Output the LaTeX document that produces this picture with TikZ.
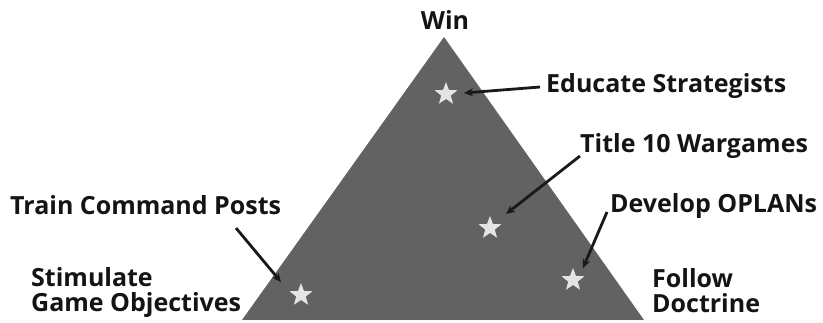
\documentclass[tikz,border=0pt]{standalone}
\usepackage{fontspec}
\setmainfont{Open Sans}
\usetikzlibrary{shapes.geometric,arrows.meta}
\definecolor{trigray}{RGB}{98,98,98}
\definecolor{stargray}{RGB}{228,228,228}
\tikzset{
  lbl/.style={anchor=base west,inner sep=0pt,font=\fontsize{25}{27}\selectfont\bfseries,text=black!92},
  starmark/.style={star,star points=5,star point ratio=2.4,minimum size=24pt,inner sep=0pt,fill=stargray,draw=none},
  arr/.style={line width=2.8pt,black!90,-{Stealth[length=9pt,width=8pt]}}
}
\begin{document}
\begin{tikzpicture}[x=1pt,y=-1pt]
\useasboundingbox (0,0) rectangle (823,323);
\fill[white] (0,0) rectangle (823,323);
% triangle
\coordinate (apex) at (444,37);
\coordinate (bl) at (242,320);
\coordinate (br) at (644,320);
\fill[trigray] (apex) -- (br) -- (bl) -- cycle;
% stars
\node[starmark] (s1) at (446,94) {};
\node[starmark] (s2) at (490,228) {};
\node[starmark] (s3) at (301,295) {};
\node[starmark] (s4) at (573,280) {};
% labels
\node[lbl,anchor=base] (win) at (445,30) {Win};
\node[lbl] (edu) at (546,93) {Educate Strategists};
\node[lbl] (t10) at (580,153) {Title 10 Wargames};
\node[lbl] (dev) at (610,213) {Develop OPLANs};
\node[lbl] (tcp) at (10,215) {Train Command Posts};
\node[lbl] (stim) at (31,287) {Stimulate};
\node[lbl] (game) at (31,312) {Game Objectives};
\node[lbl] (fol) at (652,288) {Follow};
\node[lbl] (doc) at (652,313) {Doctrine};
% arrow ends
\coordinate (e0) at (540,87);
\coordinate (e1) at (464,93);
\coordinate (t0) at (580,156);
\coordinate (t1) at (506,214);
\coordinate (d0) at (607,212);
\coordinate (d1) at (583,268);
\coordinate (c0) at (236,228);
\coordinate (c1) at (281,282);
\draw[arr] (e0) -- (e1);
\draw[arr] (t0) -- (t1);
\draw[arr] (d0) -- (d1);
\draw[arr] (c0) -- (c1);
\end{tikzpicture}
\end{document}
